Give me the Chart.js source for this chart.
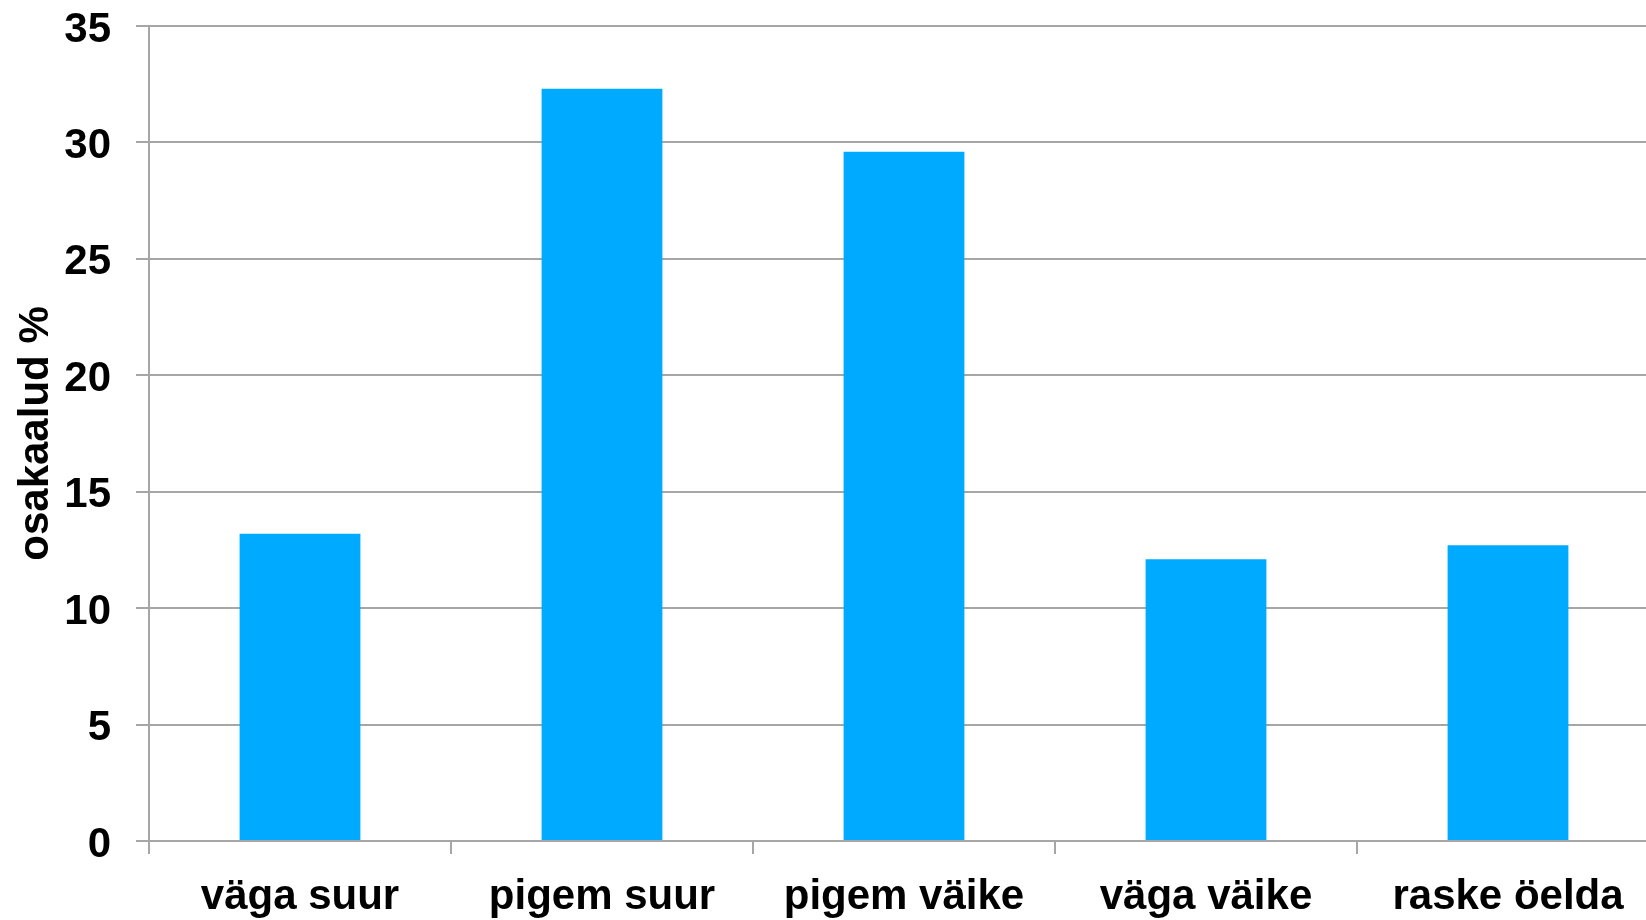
<!DOCTYPE html>
<html>
<head>
<meta charset="utf-8">
<script src="https://cdn.jsdelivr.net/npm/chart.js@4/dist/chart.umd.min.js"></script>
<style>
  html, body { margin:0; padding:0; background:#fff; overflow:hidden; }
  #wrap { position:relative; width:1659px; height:920px; }
</style>
</head>
<body>
<div id="wrap"><canvas id="chart"></canvas></div>
<script>
// Andmed
const categories = ['väga suur', 'pigem suur', 'pigem väike', 'väga väike', 'raske öelda'];
const shares = [13.2, 32.3, 29.6, 12.1, 12.7];
const yTicks = [0, 5, 10, 15, 20, 25, 30, 35];
const yTitle = 'osakaalud %';

const font = {family:'"Liberation Sans", Arial, sans-serif', size:42, weight:'bold'};
const gridColor = '#A6A6A6';

const ctx = document.getElementById('chart').getContext('2d');
new Chart(ctx, {
  type:'bar',
  data:{
    labels:categories,
    datasets:[{data:shares, backgroundColor:'#00ABFF', barPercentage:0.4, categoryPercentage:1}]
  },
  options:{
    responsive:true,
    maintainAspectRatio:false,
    animation:false,
    layout:{padding:0},
    plugins:{legend:{display:false}, tooltip:{enabled:false}},
    scales:{
      x:{
        offset:true,
        afterFit:(s)=>{ s.height = 79; s.paddingLeft = 0; s.paddingRight = 0; },
        border:{display:true, color:gridColor, width:2},
        grid:{display:true, drawOnChartArea:false, drawTicks:true, tickLength:13, color:gridColor, lineWidth:2, offset:true},
        ticks:{color:'#000', font:font, padding:18, maxRotation:0, autoSkip:false}
      },
      y:{
        min:0, max:35,
        afterBuildTicks:(s)=>{ s.ticks = yTicks.map(v=>({value:v})); },
        afterFit:(s)=>{ s.width = 149; s.paddingTop = 26; s.paddingBottom = 0; },
        border:{display:true, color:gridColor, width:2},
        grid:{color:gridColor, lineWidth:2, tickLength:13},
        ticks:{color:'#000', font:font, padding:25, labelOffset:4},
        title:{display:true, text:yTitle, color:'#000', font:font, padding:{top:11, bottom:0}}
      }
    }
  }
});
</script>
</body>
</html>
